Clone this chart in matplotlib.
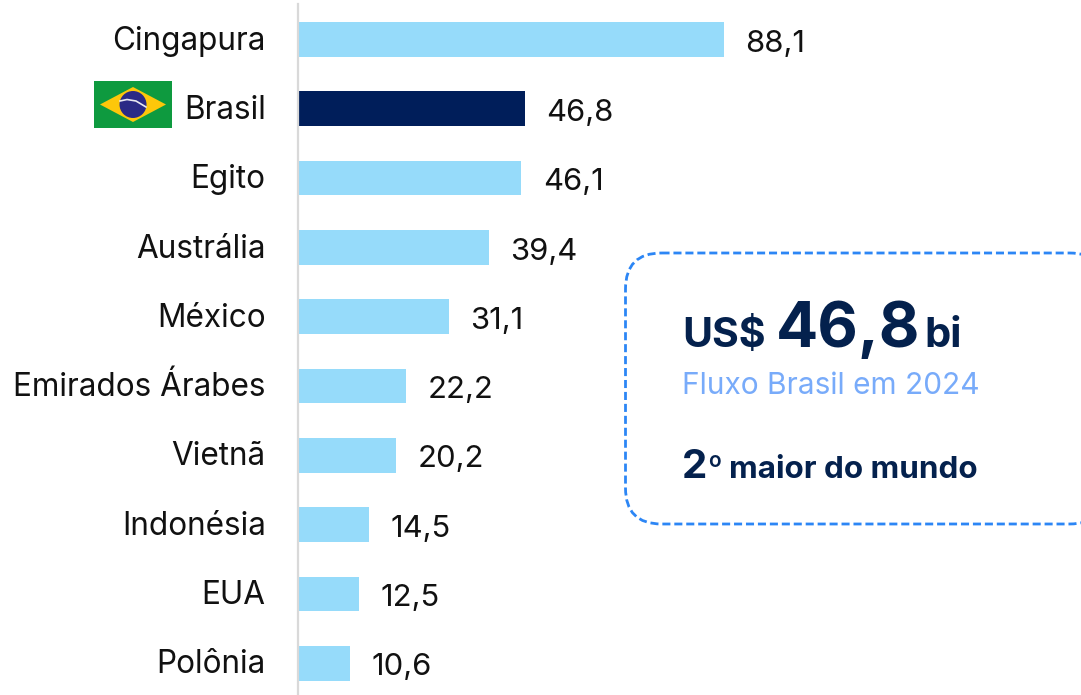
import matplotlib
matplotlib.use('Agg')

import matplotlib.pyplot as plt
from matplotlib.patches import FancyBboxPatch, Polygon, Circle, Rectangle

plt.rcParams['font.family'] = ['Inter', 'DejaVu Sans']

countries = ['Cingapura', 'Brasil', 'Egito', 'Austrália', 'México', 'Emirados Árabes',
             'Vietnã', 'Indonésia', 'EUA', 'Polônia']
values = [88.1, 46.8, 46.1, 39.4, 31.1, 22.2, 20.2, 14.5, 12.5, 10.6]
value_labels = ['88,1', '46,8', '46,1', '39,4', '31,1', '22,2', '20,2', '14,5', '12,5', '10,6']

light_blue = '#96DBFA'
dark_blue = '#001E5A'
navy_text = '#04214D'
card_blue = '#2C86F5'
sub_blue = '#78ABFA'

W, H = 1081, 695
fig = plt.figure(figsize=(W / 100, H / 100), dpi=100, facecolor='white')

# bars, axes starts at the grey baseline
ax = fig.add_axes([299 / W, 0, (W - 299) / W, 1])
ax.set_xlim(0, (W - 299) / 4.82)
ax.set_ylim((H - 39.5) / 69.3, -39.5 / 69.3)
ax.axis('off')
colors = [dark_blue if c == 'Brasil' else light_blue for c in countries]
ax.barh(range(len(values)), values, height=0.5, color=colors)

for i, v in enumerate(values):
    ax.annotate(value_labels[i], (v, i), xytext=(15.5, -3), textcoords='offset points',
                va='center', ha='left', fontsize=22.3, color='#111111')
    ax.annotate(countries[i], (0, i), xytext=(-24, -1.2), textcoords='offset points',
                va='center', ha='right', fontsize=22.7, color='#111111', annotation_clip=False)

# everything else in pixel coordinates
ov = fig.add_axes([0, 0, 1, 1], zorder=3)
ov.set_xlim(0, W)
ov.set_ylim(H, 0)
ov.axis('off')
ov.patch.set_alpha(0)

ov.plot([298, 298], [4, H], color='#D9D9D9', lw=1.6)

# flag
ov.add_patch(Rectangle((94, 81), 78, 47, color='#0E9A3F', lw=0))
ov.add_patch(Polygon([(100, 104.5), (133, 87), (166, 104.5), (133, 122)], color='#FDC70A', lw=0))
ov.add_patch(Circle((133, 104.5), 13.5, color='#2A2A86', lw=0))
ov.plot([120, 127, 136, 146], [101, 99.5, 101, 107], color='#E8E8F0', lw=1.2)

# card
ov.add_patch(FancyBboxPatch((625.5, 253), 480, 271, boxstyle='round,pad=0,rounding_size=36',
                            fc='white', ec=card_blue, lw=2, ls=(0, (2.9, 1.4))))

ov.text(682, 347, 'US$', fontsize=29.5, fontweight='bold', color=navy_text, va='baseline')
ov.text(776, 347, '46,8', fontsize=45, fontweight='bold', color=navy_text, va='baseline')
ov.text(924, 347, 'bi', fontsize=30, fontweight='bold', color=navy_text, va='baseline')
ov.text(682, 394, 'Fluxo Brasil em 2024', fontsize=21.5, color=sub_blue, va='baseline')
ov.text(682, 478, '2', fontsize=29, fontweight='bold', color=navy_text, va='baseline')
ov.text(708, 467, 'o', fontsize=15, fontweight='semibold', color=navy_text, va='baseline')
ov.text(729, 478, 'maior do mundo', fontsize=22.6, fontweight='bold', color=navy_text, va='baseline')

fig.savefig('out.png', dpi=100)
